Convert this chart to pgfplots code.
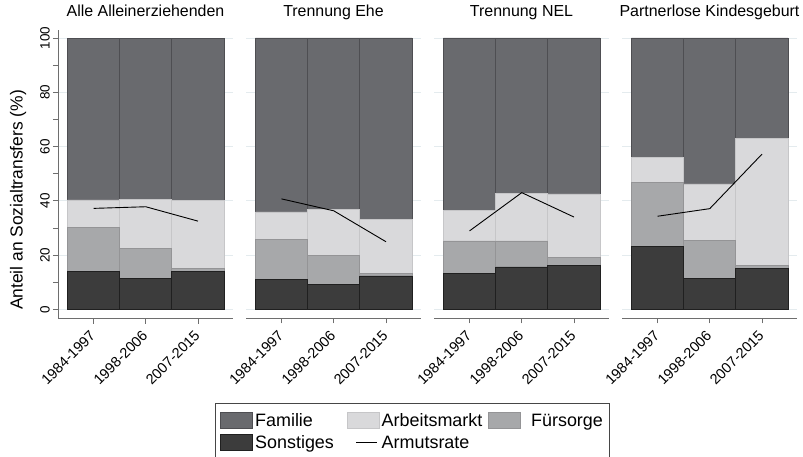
\documentclass[border=0pt]{standalone}
\usepackage{pgfplots}
\pgfplotsset{compat=1.18}
\usepackage{pgfplotstable}
\usepackage{fontspec}
\setmainfont{Liberation Sans}

\definecolor{famcol}{RGB}{105,106,110}
\definecolor{famline}{RGB}{78,78,82}
\definecolor{arbcol}{RGB}{217,217,219}
\definecolor{arbline}{RGB}{198,198,200}
\definecolor{fuecol}{RGB}{167,168,170}
\definecolor{fueline}{RGB}{148,148,150}
\definecolor{soncol}{RGB}{60,60,60}
\definecolor{sonline}{RGB}{32,32,32}
\definecolor{gridcol}{RGB}{228,235,238}
\definecolor{axiscol}{RGB}{110,110,110}
\definecolor{legborder}{RGB}{70,70,70}

% cumulative tops of the stacked segments (bottom to top: son, fue, arb, fam)
\pgfplotstableread{
x son fue arb fam rate
1 14.0 30.1 40.3 100 37.2
2 11.3 22.5 40.5 100 37.8
3 14.0 15.2 40.0 100 32.5
}\tA
\pgfplotstableread{
x son fue arb fam rate
1 11.0 25.9 35.9 100 40.7
2 9.3 20.0 36.9 100 36.3
3 12.3 13.3 33.0 100 24.9
}\tB
\pgfplotstableread{
x son fue arb fam rate
1 13.3 25.2 36.3 100 28.9
2 15.6 25.2 42.8 100 43.0
3 16.2 19.0 42.5 100 34.0
}\tC
\pgfplotstableread{
x son fue arb fam rate
1 23.2 46.6 56.1 100 34.3
2 11.4 25.3 46.2 100 37.1
3 15.2 16.1 63.1 100 57.2
}\tD

\newcommand{\panelplots}[1]{%
  \addplot[ybar, bar width=1, bar shift=0pt, fill=famcol, draw=famline, line width=0.8bp, forget plot] table[x=x, y=fam]{#1};
  \addplot[ybar, bar width=1, bar shift=0pt, fill=arbcol, draw=arbline, line width=0.8bp, forget plot] table[x=x, y=arb]{#1};
  \addplot[ybar, bar width=1, bar shift=0pt, fill=fuecol, draw=fueline, line width=0.8bp, forget plot] table[x=x, y=fue]{#1};
  \addplot[ybar, bar width=1, bar shift=0pt, fill=soncol, draw=sonline, line width=0.8bp, forget plot] table[x=x, y=son]{#1};
  \addplot[black, line width=0.9bp, sharp plot, no marks, forget plot] table[x=x, y=rate]{#1};
}

\pgfplotsset{
  panel/.style={
    at={(#1bp,138.5bp)}, anchor=south west,
    scale only axis, width=175bp, height=288.5bp,
    xmin=0.32, xmax=3.67, ymin=-3.39, ymax=102.95,
    xtick={1,2,3}, xticklabels={1984-1997,1998-2006,2007-2015},
    ytick={0,20,40,60,80,100},
    ymajorgrids, major grid style={color=gridcol, line width=0.8bp},
    tick align=outside, major tick length=5bp, minor tick length=5bp,
    tick style={color=axiscol, line width=0.8bp},
    axis line style={color=axiscol, line width=0.8bp},
    xticklabel shift=9bp,
    xticklabel style={rotate=45, anchor=east, inner sep=1bp, font=\fontsize{14.5}{16}\selectfont},
    title style={at={(axis description cs:0.5,1)}, anchor=base, yshift=7.3bp, font=\fontsize{16}{19}\selectfont},
    /pgf/number format/assume math mode=true,
  },
}

\begin{document}
\begin{tikzpicture}
\begin{axis}[panel=58,
  axis lines*=left,
  minor ytick={10,30,50,70,90},
  yticklabel shift=2bp,
  yticklabel style={rotate=90, anchor=south, inner sep=1bp, font=\fontsize{13.5}{16}\selectfont},
  title={Alle Alleinerziehenden},
  ylabel={Anteil an Sozialtransfers (\%)},
  ylabel style={at={(axis description cs:-0.2286,0.4107)}, anchor=center, font=\fontsize{17.5}{20}\selectfont},
  legend columns=3,
  legend cell align=left,
  legend style={at={(axis description cs:0.897,-0.2929)}, anchor=north west,
    draw=legborder, line width=0.8bp, font=\fontsize{18}{21}\selectfont,
    inner xsep=5bp, inner ysep=8bp, row sep=3.5bp,
    /tikz/column 2/.style={column sep=11bp},
    /tikz/column 4/.style={column sep=3.5bp},
    /tikz/column 5/.style={column sep=8.5bp}},
]
\addlegendimage{legend image code/.code={\draw[fill=famcol, draw=famline, line width=0.8bp] (0bp,-8bp) rectangle (32bp,8bp);}}
\addlegendentry{Familie}
\addlegendimage{legend image code/.code={\draw[fill=arbcol, draw=arbline, line width=0.8bp] (0bp,-8bp) rectangle (32bp,8bp);}}
\addlegendentry{Arbeitsmarkt}
\addlegendimage{legend image code/.code={\draw[fill=fuecol, draw=fueline, line width=0.8bp] (0bp,-8bp) rectangle (32bp,8bp);}}
\addlegendentry{Fürsorge}
\addlegendimage{legend image code/.code={\draw[fill=soncol, draw=sonline, line width=0.8bp] (0bp,-8bp) rectangle (32bp,8bp);}}
\addlegendentry{Sonstiges}
\addlegendimage{legend image code/.code={\draw[black, line width=0.9bp] (9bp,0bp) -- (30bp,0bp);}}
\addlegendentry{Armutsrate}
\panelplots{\tA}
\end{axis}

\begin{axis}[panel=246,
  axis x line*=bottom, axis y line*=left,
  y axis line style={draw=none}, ytick style={draw=none}, yticklabels={},
  title={Trennung Ehe},
]
\panelplots{\tB}
\end{axis}

\begin{axis}[panel=434,
  axis x line*=bottom, axis y line*=left,
  y axis line style={draw=none}, ytick style={draw=none}, yticklabels={},
  title={Trennung NEL},
]
\panelplots{\tC}
\end{axis}

\begin{axis}[panel=622,
  axis x line*=bottom, axis y line*=left,
  y axis line style={draw=none}, ytick style={draw=none}, yticklabels={},
  title={Partnerlose Kindesgeburt},
]
\panelplots{\tD}
\end{axis}

\pgfresetboundingbox
\path[use as bounding box] (0,0) rectangle (803bp,457bp);
\end{tikzpicture}
\end{document}
